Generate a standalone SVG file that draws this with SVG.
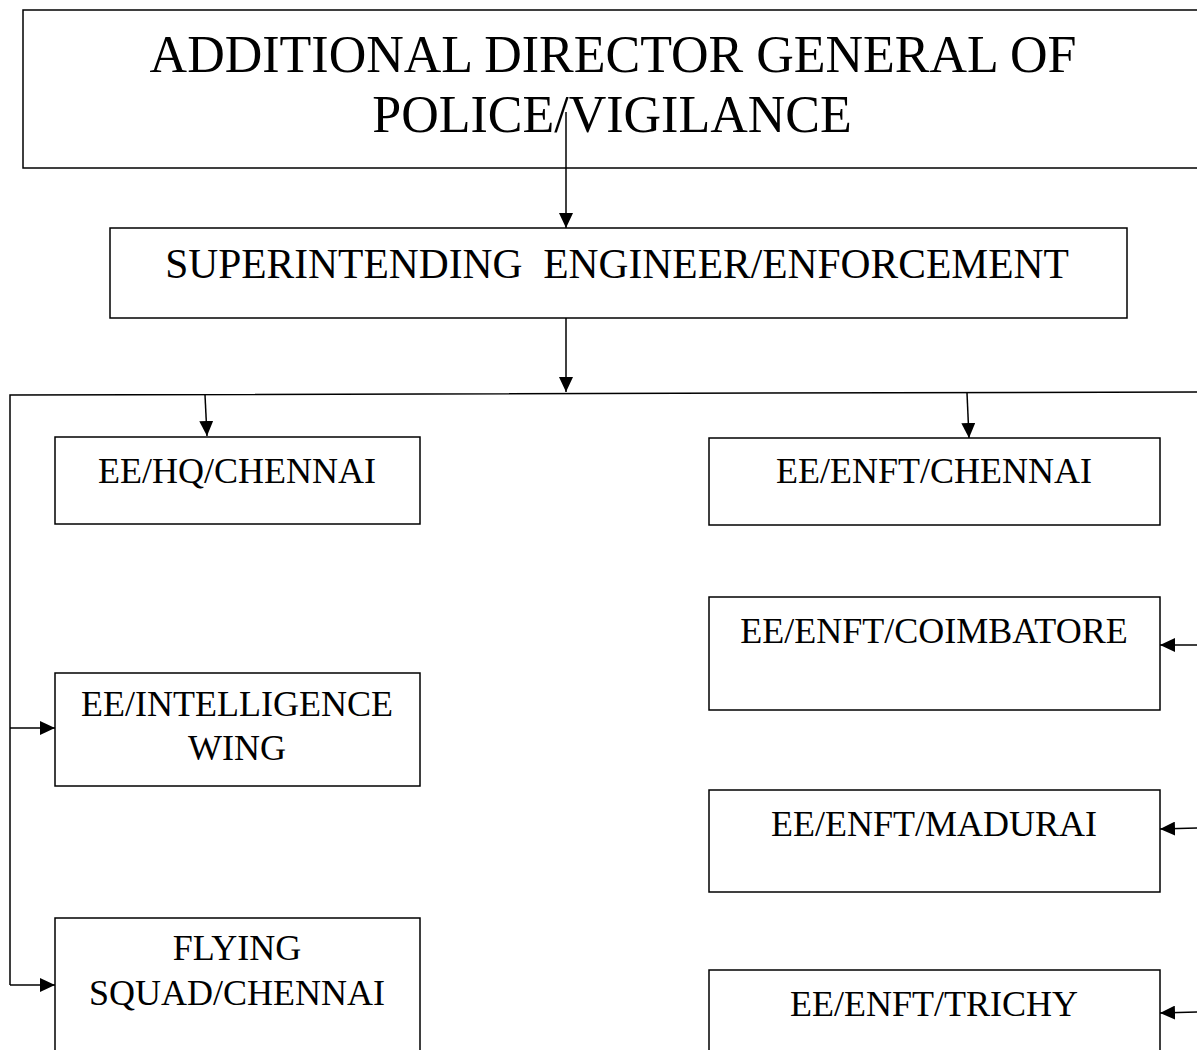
<svg xmlns="http://www.w3.org/2000/svg" width="1197" height="1050" viewBox="0 0 1197 1050">
<style>
.box{fill:#fff;stroke:#000;stroke-width:1.5}
.t{font-family:"Liberation Serif","Times New Roman",serif;fill:#000;text-anchor:middle}
.c{fill:none;stroke:#000;stroke-width:1.5}
</style>
<defs>
<marker id="ah" viewBox="0 0 15 14" refX="15" refY="7" markerWidth="15" markerHeight="14" markerUnits="userSpaceOnUse" orient="auto">
<path d="M0,0 L15,7 L0,14 Z" fill="#000"/>
</marker>
</defs>
<g id="adgp">
<rect class="box" x="23" y="10" width="1190" height="158"/>
<text class="t" x="613" y="72" font-size="52">ADDITIONAL DIRECTOR GENERAL OF</text>
<text class="t" x="612" y="132" font-size="52">POLICE/VIGILANCE</text>
</g>
<g id="se">
<rect class="box" x="110" y="228" width="1017" height="90"/>
<text class="t" x="617" y="278" font-size="41.5" xml:space="preserve">SUPERINTENDING  ENGINEER/ENFORCEMENT</text>
</g>
<g id="ee-hq">
<rect class="box" x="55" y="437" width="365" height="87"/>
<text class="t" x="237" y="483" font-size="36">EE/HQ/CHENNAI</text>
</g>
<g id="ee-enft-chennai">
<rect class="box" x="709" y="438" width="451" height="87"/>
<text class="t" x="934" y="483" font-size="36">EE/ENFT/CHENNAI</text>
</g>
<g id="ee-enft-coimbatore">
<rect class="box" x="709" y="597" width="451" height="113"/>
<text class="t" x="934" y="643" font-size="36">EE/ENFT/COIMBATORE</text>
</g>
<g id="ee-intelligence">
<rect class="box" x="55" y="673" width="365" height="113"/>
<text class="t" x="237" y="716" font-size="36">EE/INTELLIGENCE</text>
<text class="t" x="237" y="760" font-size="36">WING</text>
</g>
<g id="ee-enft-madurai">
<rect class="box" x="709" y="790" width="451" height="102"/>
<text class="t" x="934" y="836" font-size="36">EE/ENFT/MADURAI</text>
</g>
<g id="flying-squad">
<rect class="box" x="55" y="918" width="365" height="150"/>
<text class="t" x="237" y="960" font-size="36">FLYING</text>
<text class="t" x="237" y="1005" font-size="36">SQUAD/CHENNAI</text>
</g>
<g id="ee-enft-trichy">
<rect class="box" x="709" y="970" width="451" height="100"/>
<text class="t" x="934" y="1016" font-size="36">EE/ENFT/TRICHY</text>
</g>
<g id="connectors">
<line class="c" x1="566" y1="112" x2="566" y2="228" marker-end="url(#ah)"/>
<line class="c" x1="566" y1="318" x2="566" y2="392" marker-end="url(#ah)"/>
<polyline class="c" points="1197,392 10,395 10,985"/>
<line class="c" x1="205" y1="395" x2="207" y2="436" marker-end="url(#ah)"/>
<line class="c" x1="967" y1="393" x2="969" y2="438" marker-end="url(#ah)"/>
<line class="c" x1="10" y1="728" x2="55" y2="728" marker-end="url(#ah)"/>
<line class="c" x1="10" y1="985" x2="55" y2="985" marker-end="url(#ah)"/>
<line class="c" x1="1197" y1="645" x2="1160" y2="645" marker-end="url(#ah)"/>
<line class="c" x1="1197" y1="828" x2="1160" y2="829" marker-end="url(#ah)"/>
<line class="c" x1="1197" y1="1012" x2="1160" y2="1013" marker-end="url(#ah)"/>
</g>
</svg>
